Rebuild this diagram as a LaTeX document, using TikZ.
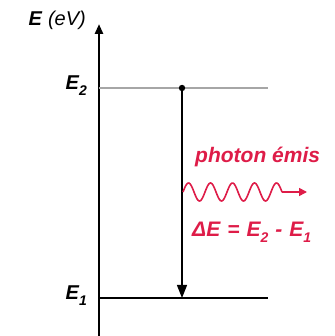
\documentclass[tikz,border=0pt]{standalone}
\usepackage{fontspec}
\setmainfont{Liberation Sans}
\usetikzlibrary{arrows.meta}
\definecolor{photred}{RGB}{222,28,72}
\newcommand{\sbs}[1]{\raisebox{-6pt}{\fontsize{14}{15}\selectfont #1}}
\newcommand{\gp}{\hspace{7pt}}
\begin{document}
\begin{tikzpicture}[x=1pt,y=1pt,
  lbl/.style={font=\fontsize{20}{22}\selectfont\itshape\bfseries, inner sep=0pt},
  rlbl/.style={font=\fontsize{21}{23}\selectfont\itshape\bfseries, text=photred, inner sep=0pt, anchor=west}]
\useasboundingbox (0,0) rectangle (334,336);
% axis
\coordinate (axbot) at (99,0);
\coordinate (axtop) at (99,312);
\draw[line width=2.8pt, -{Triangle[length=10pt,width=8pt]}] (axbot) -- (axtop);
\node[lbl, anchor=east] (elab) at (86,316) {E\hspace{6pt}{\fontsize{20}{22}\selectfont\mdseries (eV)}};
% levels
\coordinate (e2a) at (99,248);
\coordinate (e2b) at (268,248);
\coordinate (e1a) at (99,38);
\coordinate (e1b) at (268,38);
\draw[line width=1.6pt, gray!70] (e2a) -- (e2b);
\draw[line width=1.8pt] (e1a) -- (e1b);
\node[lbl, anchor=east] (e2lab) at (87,250) {E\sbs{2}};
\node[lbl, anchor=east] (e1lab) at (87,40) {E\sbs{1}};
% transition
\coordinate (top) at (182,248);
\coordinate (bot) at (182,38);
\fill (top) circle (3.2pt);
\draw[line width=1.4pt, -{Triangle[length=13pt,width=10pt]}] (top) -- (bot);
% photon
\node[rlbl] (phot) at (195,179) {photon émis};
\draw[photred, line width=1.6pt] plot[domain=0:4.5, samples=120] ({183+\x*22},{144+9*sin(\x*360)}) coordinate (wend);
\coordinate (wtip) at (307,144);
\draw[photred, line width=1.6pt, -{Triangle[length=8pt,width=8pt]}] (wend) -- (wtip);
\node[rlbl] (de) at (192,104) {ΔE\gp=\gp E\sbs{2}\gp-\gp E\sbs{1}};
\end{tikzpicture}
\end{document}
